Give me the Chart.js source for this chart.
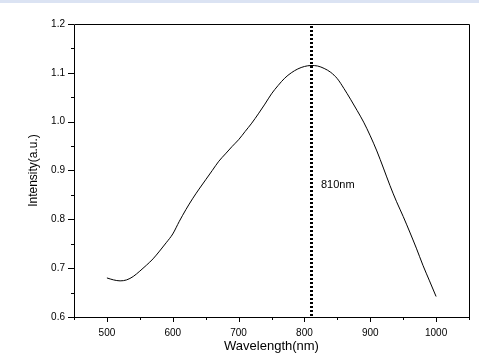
<!DOCTYPE html>
<html>
<head>
<meta charset="utf-8">
<script src="https://cdn.jsdelivr.net/npm/chart.js@4/dist/chart.umd.min.js"></script>
<style>
  html, body { margin: 0; padding: 0; background: #fff; }
  #wrap { position: relative; width: 479px; height: 364px; }
  #band { position: absolute; left: 0; top: 0; width: 479px; height: 3px; background: #dbe3f3; }
  canvas { display: block; }
</style>
</head>
<body>
<div id="wrap">
  <canvas id="c" width="479" height="364"></canvas>
  <div id="band"></div>
</div>
<script>
// ---- data ----
const wavelengths = [500,510,520,530,540,550,560,570,580,590,600,610,620,630,640,650,660,670,680,690,700,710,720,730,740,750,760,770,780,790,800,810,820,830,840,850,860,870,880,890,900,910,920,930,940,950,960,970,980,990,1000];
const intensities = [0.680,0.676,0.674,0.676,0.683,0.694,0.706,0.719,0.735,0.752,0.770,0.796,0.820,0.842,0.862,0.881,0.900,0.919,0.934,0.949,0.963,0.980,0.997,1.016,1.036,1.057,1.074,1.089,1.100,1.108,1.113,1.115,1.114,1.109,1.101,1.088,1.068,1.046,1.023,0.999,0.971,0.940,0.905,0.869,0.836,0.806,0.774,0.741,0.706,0.674,0.642];
const xMajorTicks = [500,600,700,800,900,1000];
const yMajorTicks = [0.6,0.7,0.8,0.9,1.0,1.1,1.2];
const markerWavelength = 810;
const markerLabel = '810nm';
const markerLabelY = 0.871;
const xTitle = 'Wavelength(nm)';
const yTitle = 'Intensity(a.u.)';

const FONT = "'Liberation Sans', Arial, sans-serif";

const framePlugin = {
  id: 'frame',
  afterDatasetsDraw(chart) {
    const {ctx, chartArea: a, scales: {x, y}} = chart;
    ctx.save();
    ctx.strokeStyle = '#000';
    ctx.lineWidth = 1;
    ctx.beginPath();
    ctx.rect(a.left + 0.5, a.top + 0.5, a.right - a.left, a.bottom - a.top);
    ctx.stroke();
    ctx.beginPath();
    for (let v = 450; v <= 1050; v += 50) {
      const px = Math.round(x.getPixelForValue(v)) + 0.5;
      const major = v % 100 === 0;
      ctx.moveTo(px, a.bottom);
      ctx.lineTo(px, a.bottom + (major ? 5 : 3));
    }
    for (let i = 0; i <= 12; i++) {
      const v = 0.6 + i * 0.05;
      const py = Math.round(y.getPixelForValue(v)) + 0.5;
      const major = i % 2 === 0;
      ctx.moveTo(a.left, py);
      ctx.lineTo(a.left - (major ? 6 : 3), py);
    }
    ctx.stroke();
    const mx = Math.round(x.getPixelForValue(markerWavelength)) + 0.5;
    ctx.lineWidth = 3;
    ctx.setLineDash([2, 2]);
    ctx.beginPath();
    ctx.moveTo(mx, a.top + 2);
    ctx.lineTo(mx, a.bottom - 1);
    ctx.stroke();
    ctx.setLineDash([]);
    ctx.fillStyle = '#000';
    ctx.font = '11px ' + FONT;
    ctx.textAlign = 'left';
    ctx.textBaseline = 'middle';
    ctx.fillText(markerLabel, mx + 9.5, y.getPixelForValue(markerLabelY));
    ctx.restore();
  }
};

new Chart(document.getElementById('c'), {
  type: 'line',
  data: {
    datasets: [{
      data: wavelengths.map((w, i) => ({x: w, y: intensities[i]})),
      borderColor: '#000',
      borderWidth: 1,
      pointRadius: 0,
      cubicInterpolationMode: 'monotone',
      fill: false
    }]
  },
  options: {
    responsive: false,
    animation: false,
    devicePixelRatio: 1,
    layout: { padding: { left: 0, right: 10, top: 24, bottom: 0 } },
    plugins: { legend: { display: false }, tooltip: { enabled: false } },
    scales: {
      x: {
        type: 'linear',
        min: 450, max: 1050,
        afterBuildTicks(s) { s.ticks = xMajorTicks.map(v => ({value: v})); },
        afterFit(s) { s.height = 47; },
        grid: { display: false, drawTicks: false },
        border: { display: false },
        ticks: { color: '#000', font: { family: FONT, size: 10 }, padding: 10, maxRotation: 0, callback: v => String(v) },
        title: { display: true, text: xTitle, color: '#000', font: { family: FONT, size: 13 }, padding: { top: 0, bottom: 10 } }
      },
      y: {
        min: 0.6, max: 1.2,
        afterBuildTicks(s) { s.ticks = yMajorTicks.map(v => ({value: v})); },
        afterFit(s) { s.width = 74; },
        grid: { display: false, drawTicks: false },
        border: { display: false },
        ticks: { color: '#000', font: { family: FONT, size: 10 }, padding: 9, callback: v => Number(v).toFixed(1) },
        title: { display: true, text: yTitle, color: '#000', font: { family: FONT, size: 12 }, padding: { top: 26, bottom: 0 } }
      }
    }
  },
  plugins: [framePlugin]
});
</script>
</body>
</html>
